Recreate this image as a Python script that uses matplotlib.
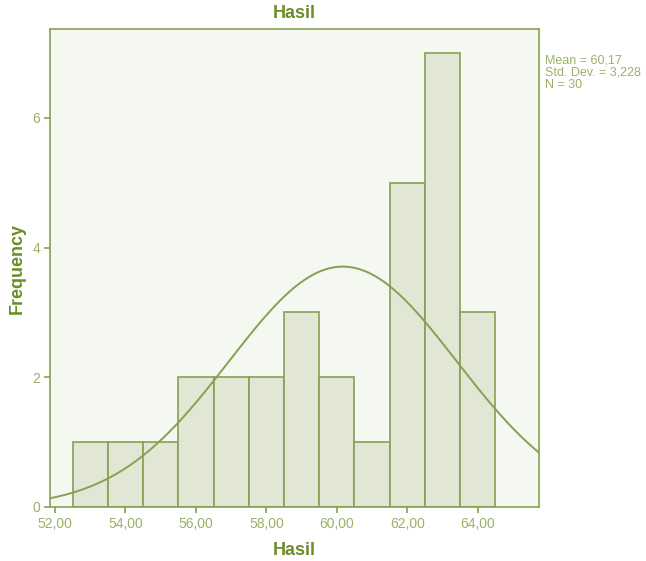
import numpy as np
import matplotlib.pyplot as plt

plt.rcParams['font.family'] = ['Liberation Sans', 'DejaVu Sans']

# histogram bins (centres) and counts
bin_centres = [53, 54, 55, 56, 57, 58, 59, 60, 61, 62, 63, 64]
counts = [1, 1, 1, 2, 2, 2, 3, 2, 1, 5, 7, 3]
mean = 60.17
sd = 3.228
n = 30
xticks = [52, 54, 56, 58, 60, 62, 64]
yticks = [0, 2, 4, 6]

edge = '#87a052'
fill = '#e2e7d5'
bg = '#f5f7f1'
dark = '#6b8c28'
light = '#9ab268'

fig = plt.figure(figsize=(6.46, 5.61), dpi=100)
ax = fig.add_axes([0.0774, 0.0963, 0.7566, 0.8517])
ax.set_facecolor(bg)

ax.bar(bin_centres, counts, width=1.0, color=fill, edgecolor=edge, linewidth=1.2, zorder=2)

xmin, xmax = 51.86, 65.73
xs = np.linspace(xmin, xmax, 300)
ys = n * 1.0 / (sd * np.sqrt(2 * np.pi)) * np.exp(-0.5 * ((xs - mean) / sd) ** 2)
ax.plot(xs, ys, color=edge, linewidth=1.4, zorder=3)

ax.set_xlim(xmin, xmax)
ax.set_ylim(0, 7.37)
ax.set_xticks(xticks)
ax.set_xticklabels([('%.2f' % v).replace('.', ',') for v in xticks])
ax.set_yticks(yticks)

for s in ax.spines.values():
    s.set_color(edge)
    s.set_linewidth(1.2)
ax.tick_params(colors=edge, labelcolor=light, labelsize=10, length=4, width=1.2, pad=3)

ax.set_title('Hasil', color=dark, fontsize=13, fontweight='bold', pad=8)
ax.set_xlabel('Hasil', color=dark, fontsize=13, fontweight='bold', labelpad=8)
ax.set_ylabel('Frequency', color=dark, fontsize=13, fontweight='bold', labelpad=5)

fig.text(0.844, 0.902, 'Mean = 60,17\nStd. Dev. = 3,228\nN = 30', color=light,
         fontsize=9, va='top', ha='left', linespacing=1.0)

fig.savefig('out.png', dpi=100, facecolor='white')
